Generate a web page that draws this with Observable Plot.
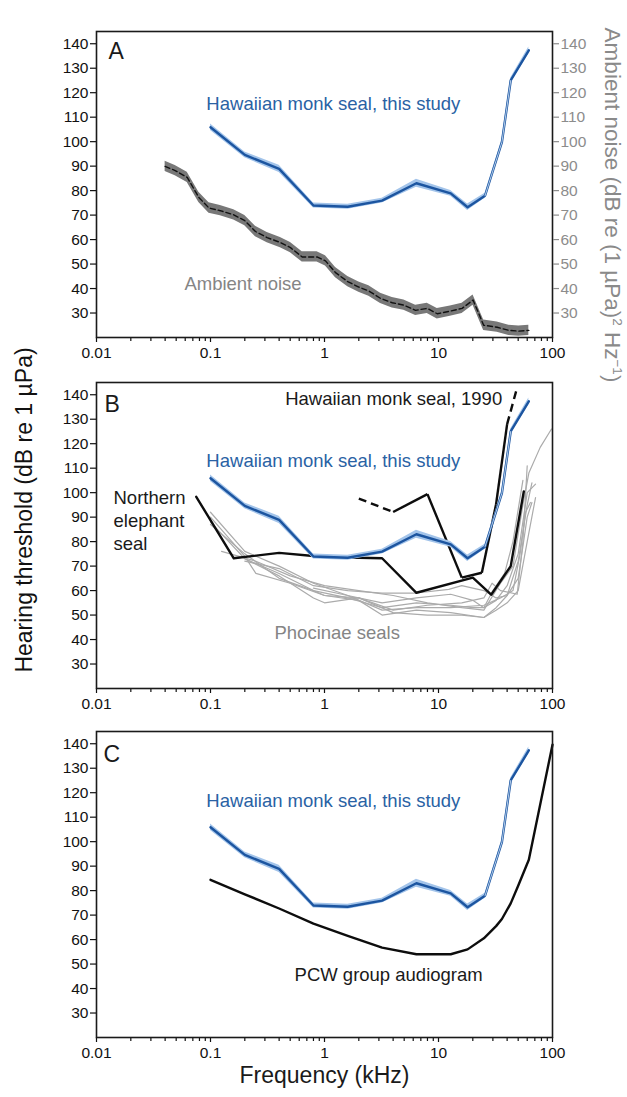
<!DOCTYPE html>
<html>
<head>
<meta charset="utf-8">
<script src="https://cdn.jsdelivr.net/npm/d3@7"></script>
<script src="https://cdn.jsdelivr.net/npm/@observablehq/plot@0.6"></script>
<style>
  body { margin: 0; background: #fff; }
  #wrap { position: relative; width: 627px; height: 1097px; font-family: "Liberation Sans", Arial, sans-serif; }
  .panel { position: absolute; left: 0; }
  .ytitle { position: absolute; white-space: nowrap; font-size: 23px; line-height: 1; }
  sup { font-size: 0.6em; vertical-align: 0.55em; line-height: 0; }
</style>
</head>
<body>
<div id="wrap">
  <div class="panel" id="pA" style="top:0px"></div>
  <div class="panel" id="pB" style="top:351px"></div>
  <div class="panel" id="pC" style="top:700px"></div>
  <div class="ytitle" style="left:24px; top:510px; transform: translate(-50%,-50%) rotate(-90deg); color:#111;">Hearing threshold (dB re 1 µPa)</div>
  <div class="ytitle" style="left:612px; top:205px; font-size:22.5px; transform: translate(-50%,-50%) rotate(90deg); color:#8a8a8a;">Ambient noise (dB re (1 µPa)<sup>2</sup> Hz<sup>−1</sup>)</div>
</div>
<script>
// ---------- data ----------
const monkFreq = [0.1, 0.2, 0.4, 0.8, 1.6, 3.2, 6.4, 12.8, 18, 25.6, 36, 43, 62];
const monkThr  = [105.9, 94.6, 88.9, 73.9, 73.4, 75.9, 83.0, 78.9, 73.2, 77.9, 99.8, 125, 137.3];
const monkCI   = [1.3, 1.2, 1.5, 1.0, 1.0, 1.0, 1.6, 1.2, 1.3, 1.0, 1.0, 1.0, 1.4];

const noiseFreq = [0.04, 0.049, 0.0625, 0.079, 0.097, 0.122, 0.16, 0.2, 0.248, 0.314, 0.41, 0.503, 0.637, 0.8, 0.86, 1.02, 1.25, 1.6, 2.0, 2.45, 3.1, 3.93, 4.97, 6.3, 7.96, 9.75, 12.7, 16.1, 20.1, 24.9, 32.7, 41.4, 50.6, 62];
const noiseLvl  = [89.9, 88.2, 85.4, 77.2, 72.9, 71.8, 70.1, 67.7, 63.3, 60.8, 58.8, 56.7, 52.9, 52.9, 52.9, 51.3, 46.5, 42.8, 40.6, 39.0, 36.0, 34.2, 33.2, 31.1, 31.9, 29.7, 30.8, 31.9, 35.3, 25.0, 24.2, 22.9, 22.6, 22.9];
const noiseBand = 2.1;

const monk1990Freq = [2, 4, 8, 16, 24, 32, 40, 48];
const monk1990Thr  = [97.6, 92.1, 99.4, 65.3, 67.3, 95.3, 128, 141.5];
const monk1990Dashed = [true, false, false, false, false, false, true]; // per segment

const elephantFreq = [0.075, 0.16, 0.4, 0.8, 1.6, 3.2, 6.4, 20, 29, 43, 56];
const elephantThr  = [98.3, 73.2, 75.4, 74.1, 73.5, 73.2, 59.1, 65.3, 58.3, 70, 100.5];

const phocinae = [
  [[0.1,92],[0.2,76],[0.4,70],[0.8,63],[1.6,58],[3.2,55],[6.4,57],[12.8,58.5],[20,56],[25,53],[32,56],[40,62],[50,75],[60,100],[71,103.5]],
  [[0.1,88],[0.2,73],[0.4,67],[0.8,60],[1,58],[2,57],[4,51],[8,50],[16,50],[25,49],[32,52],[40,55],[50,60],[60,80],[71,98]],
  [[0.125,76],[0.25,72],[0.5,66],[1,62],[2,60],[4,58],[8,55],[16,53],[25,52],[30,58],[35,63],[45,70],[55,95],[62,108],[78,118.5],[98,126]],
  [[0.1,90],[0.2,74],[0.25,67],[0.5,63],[1,58],[2,56],[3.2,50],[6.4,52],[12.8,51],[25,49],[32,53],[40,58],[50,72],[60,95],[66,104]],
  [[0.2,73],[0.4,66],[0.8,57],[1,55],[2,57],[4,52],[8,54],[16,55],[25,57],[29.5,63],[35,60],[49,58.5],[55,80],[60,111]],
  [[0.1,87],[0.2,75],[0.4,65],[0.8,60],[1.6,57],[3.2,53],[6.4,55],[12.8,54],[20,53],[25,53],[30,60],[38,67],[45,80],[55,105]],
  [[0.2,72],[0.4,69],[0.8,62],[1.6,60],[3.2,59],[6.4,59],[12.3,60.5],[16,62],[25,60],[32,57],[40,58],[50,65],[60,90],[66,96]],
  [[0.8,61],[1.6,58],[3.2,52],[6.4,53],[12.8,53],[25,54],[35,57],[45,60],[52,75],[58,92],[64,96]]
];

const pcwFreq = [0.1, 0.2, 0.4, 0.8, 1.6, 3.2, 6.4, 12.8, 18, 25, 32, 36, 43, 50, 62, 100];
const pcwThr  = [84.4, 78.5, 72.7, 66.5, 61.5, 56.7, 54.0, 54.0, 56.0, 60.5, 65.5, 68.4, 74.8, 82, 92.6, 139.6];

const yTicks = [30, 40, 50, 60, 70, 80, 90, 100, 110, 120, 130, 140];
const xMajor = [0.01, 0.1, 1, 10, 100];
const xMajorLabels = ["0.01", "0.1", "1", "10", "100"];

// ---------- build ----------
const BLUE_TEXT = "#2a62a4", BLUE_LINE = "#1c55a0", BLUE_BAND = "#a3c4ea";
const monk = monkFreq.map((f, i) => ({f, v: monkThr[i], lo: monkThr[i] - monkCI[i], hi: monkThr[i] + monkCI[i]}));
const noise = noiseFreq.map((f, i) => ({f, v: noiseLvl[i], lo: noiseLvl[i] - noiseBand, hi: noiseLvl[i] + noiseBand}));
const monk1990 = monk1990Freq.map((f, i) => ({f, v: monk1990Thr[i]}));
const m1990segs = [];
for (let i = 0; i < monk1990.length - 1; i++) {
  m1990segs.push({x1: monk1990[i].f, y1: monk1990[i].v, x2: monk1990[i+1].f, y2: monk1990[i+1].v, dashed: monk1990Dashed[i]});
}
const elephant = elephantFreq.map((f, i) => ({f, v: elephantThr[i]}));
const phoc = phocinae.flatMap((s, k) => s.map(([f, v]) => ({f, v, k})));
const pcw = pcwFreq.map((f, i) => ({f, v: pcwThr[i]}));

const xMinor = [];
for (const d of [0.01, 0.1, 1, 10]) for (let m = 2; m <= 9; m++) xMinor.push(+(d * m).toPrecision(3));

function monkMarks() {
  return [
    Plot.areaY(monk, {x: "f", y1: "lo", y2: "hi", fill: BLUE_BAND}),
    Plot.line(monk, {x: "f", y: "v", stroke: BLUE_LINE, strokeWidth: 2.4}),
    Plot.line(monk.slice(9, 12), {x: "f", y: "v", stroke: "#c4daf3", strokeWidth: 0.9})
  ];
}

function axes(showRight) {
  const m = [
    Plot.axisX({ticks: xMinor, tickSize: 4, tickFormat: () => "", label: null, strokeWidth: 1.2}),
    Plot.axisX({ticks: xMajor, tickSize: 5, tickPadding: 4, tickFormat: (d) => xMajorLabels[xMajor.indexOf(d)], label: null, strokeWidth: 1.2, fill: "#111"}),
    Plot.axisY({ticks: yTicks, tickSize: 6, tickPadding: 2, label: null, strokeWidth: 1.2, fill: "#111"}),
    Plot.frame({stroke: "#1a1a1a", strokeWidth: 1.6})
  ];
  if (showRight) m.push(Plot.axisY({anchor: "right", ticks: yTicks, tickSize: 6, tickPadding: 2, label: null, color: "#8c8c8c", strokeWidth: 1.2}));
  return m;
}

function panel(marks, height, marginBottom, right) {
  return Plot.plot({
    width: 627, height,
    marginLeft: 96, marginRight: 75, marginTop: 31, marginBottom,
    style: {fontFamily: '"Liberation Sans", Arial, sans-serif', fontSize: "15.5px", color: "#111", background: "transparent", overflow: "visible"},
    x: {type: "log", domain: [0.01, 100], axis: null},
    y: {domain: [20, 145], axis: null},
    marks: [...marks, ...axes(right)]
  });
}

const letter = (t, dx, dy) => Plot.text([t], {frameAnchor: "top-left", dx, dy, lineAnchor: "top", fontSize: 23, fill: "#1a1a1a", text: d => d});
const label = (rows, opts) => Plot.text(rows, {x: "f", y: "v", text: "t", fontSize: 18.5, ...opts});

// Panel A
document.getElementById("pA").append(panel([
  Plot.areaY(noise, {x: "f", y1: "lo", y2: "hi", fill: "#787878"}),
  Plot.line(noise, {x: "f", y: "v", stroke: "#111", strokeWidth: 1.4, strokeDasharray: "5,3"}),
  ...monkMarks(),
  letter("A", 12, 11),
  label([{f: 0.092, v: 115.2, t: "Hawaiian monk seal, this study"}], {textAnchor: "start", fill: BLUE_TEXT}),
  label([{f: 0.059, v: 41.8, t: "Ambient noise"}], {textAnchor: "start", fill: "#858585"})
], 365, 28, true));

// Panel B
document.getElementById("pB").append(panel([
  Plot.line(phoc, {x: "f", y: "v", z: "k", stroke: "#ababab", strokeWidth: 1.2}),
  Plot.line(elephant, {x: "f", y: "v", stroke: "#0d0d0d", strokeWidth: 2.4}),
  Plot.link(m1990segs.filter(d => !d.dashed), {x1: "x1", y1: "y1", x2: "x2", y2: "y2", stroke: "#0d0d0d", strokeWidth: 2.4}),
  Plot.link(m1990segs.filter(d => d.dashed), {x1: "x1", y1: "y1", x2: "x2", y2: "y2", stroke: "#0d0d0d", strokeWidth: 2.4, strokeDasharray: "8,5"}),
  ...monkMarks(),
  letter("B", 8, 13),
  label([{f: 36.2, v: 138.4, t: "Hawaiian monk seal, 1990"}], {textAnchor: "end", fill: "#1a1a1a"}),
  label([{f: 0.092, v: 113, t: "Hawaiian monk seal, this study"}], {textAnchor: "start", fill: BLUE_TEXT}),
  label([{f: 0.0141, v: 88.9, t: "Northern\nelephant\nseal"}], {textAnchor: "start", fill: "#1a1a1a", lineHeight: 1.25}),
  label([{f: 0.364, v: 42.7, t: "Phocinae seals"}], {textAnchor: "start", fill: "#858585"})
], 365, 28, false));

// Panel C
document.getElementById("pC").append(panel([
  Plot.line(pcw, {x: "f", y: "v", stroke: "#0d0d0d", strokeWidth: 2.4}),
  ...monkMarks(),
  letter("C", 7, 14),
  label([{f: 0.092, v: 116.4, t: "Hawaiian monk seal, this study"}], {textAnchor: "start", fill: BLUE_TEXT}),
  label([{f: 0.546, v: 45.5, t: "PCW group audiogram"}], {textAnchor: "start", fill: "#1a1a1a"}),
  Plot.text(["Frequency (kHz)"], {frameAnchor: "bottom", dy: 45, fontSize: 23, fill: "#1a1a1a", text: d => d})
], 397, 60, false));
</script>
</body>
</html>
